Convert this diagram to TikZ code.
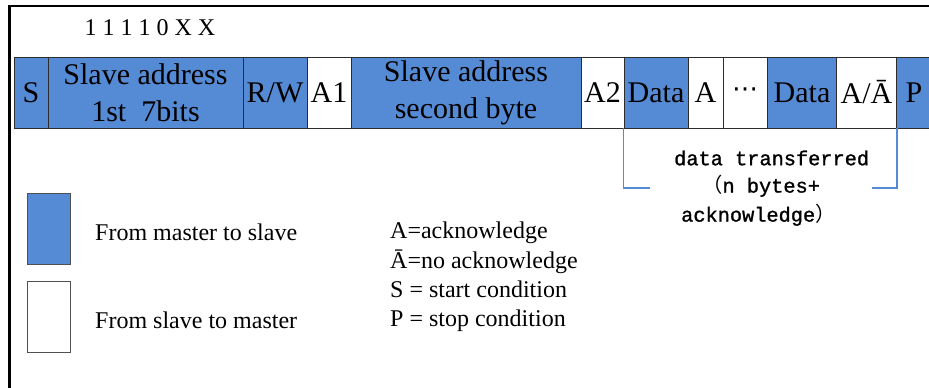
\documentclass[tikz,border=0pt]{standalone}
\usepackage{fontspec}
\setmainfont{Liberation Serif}
\newfontfamily\monofont[FakeBold=1.2]{Liberation Mono}
\newfontfamily\cjkfont{Noto Sans CJK SC}
\newfontfamily\symfont{DejaVu Sans}
\definecolor{mblue}{RGB}{85,139,213}
\definecolor{cellline}{RGB}{45,45,45}
\definecolor{boxline}{RGB}{80,80,80}
\begin{document}
\begin{tikzpicture}[x=1pt,y=-1pt,
  cell/.style={draw=cellline, line width=0.9pt, minimum height=71pt, inner sep=0pt,
    font=\rmfamily\fontsize{30}{37}\selectfont, align=center},
  mcell/.style={cell, fill=mblue},
  scell/.style={cell, fill=white},
  legbox/.style={draw=boxline, line width=1pt, minimum width=43pt, minimum height=71pt, inner sep=0pt},
  legtext/.style={font=\rmfamily\fontsize{24}{29.2}\selectfont, inner sep=0pt, align=left},
  bracket/.style={draw=mblue, line width=1.6pt},
  monotext/.style={font=\monofont\fontsize{20.3}{29}\selectfont, inner sep=0pt, anchor=west}
]
\useasboundingbox (0,0) rectangle (929,388);
% frame
\coordinate (fbl) at (9.25,390);
\coordinate (ftl) at (9.25,6);
\coordinate (ftr) at (931,6);
\draw[line width=2.5pt] (fbl) -- (ftl) -- (ftr);

% top label
\node[legtext] (bits) at (150,28) {1 1 1 1 0 X X};

% frame cells
\node[mcell, minimum width=34pt]  (s)   at (31,92.5)    {S};
\node[mcell, minimum width=195pt] (sa1) at (145.5,92.5) {Slave address\\1st\ \ 7bits};
\node[mcell, minimum width=64pt]  (rw)  at (275,92.5)   {R/W};
\node[scell, minimum width=44pt]  (a1)  at (329,92.5)   {A1};
\node[mcell, minimum width=230pt] (sa2) at (466,92.5)   {Slave address\\second byte};
\node[scell, minimum width=43pt]  (a2)  at (602.5,92.5) {A2};
\node[mcell, minimum width=64pt]  (d1)  at (656,92.5)   {Data};
\node[scell, minimum width=35pt]  (ak)  at (705.5,92.5) {A};
\node[scell, minimum width=44pt, font=\symfont\fontsize{26}{30}\selectfont]  (dots) at (745,92.5)  {⋯};
\node[mcell, minimum width=69pt]  (d2)  at (802,92.5)   {Data};
\node[scell, minimum width=60pt]  (an)  at (866.5,92.5) {A/Ā};
\node[mcell, minimum width=36pt]  (p)   at (914,92.5)   {P};

% bracket
\coordinate (bl) at (d1.south west |- 0,188);
\coordinate (ble) at (650,188);
\coordinate (br) at (an.south east |- 0,188);
\coordinate (bre) at (872,188);
\draw[bracket] (d1.south west) -- (bl) -- (ble);
\draw[bracket] (an.south east) -- (br) -- (bre);
\node[monotext] (dt1) at (674,158) {data transferred};
\node[monotext] (dt2) at (702,186) {{\cjkfont （}n bytes+};
\node[monotext] (dt3) at (681,215) {acknowledge{\cjkfont ）}};

% legend
\node[legbox, fill=mblue] (lm) at (48.5,228.5) {};
\node[legbox, fill=white] (ls) at (48.5,316.5) {};
\node[legtext, anchor=west] (lmt) at (95,232) {From master to slave};
\node[legtext, anchor=west] (lst) at (95,320) {From slave to master};

\node[legtext, anchor=north west] (defs) at (390,222) {A=acknowledge\\Ā=no acknowledge\\S = start condition\\P = stop condition};
\end{tikzpicture}
\end{document}
